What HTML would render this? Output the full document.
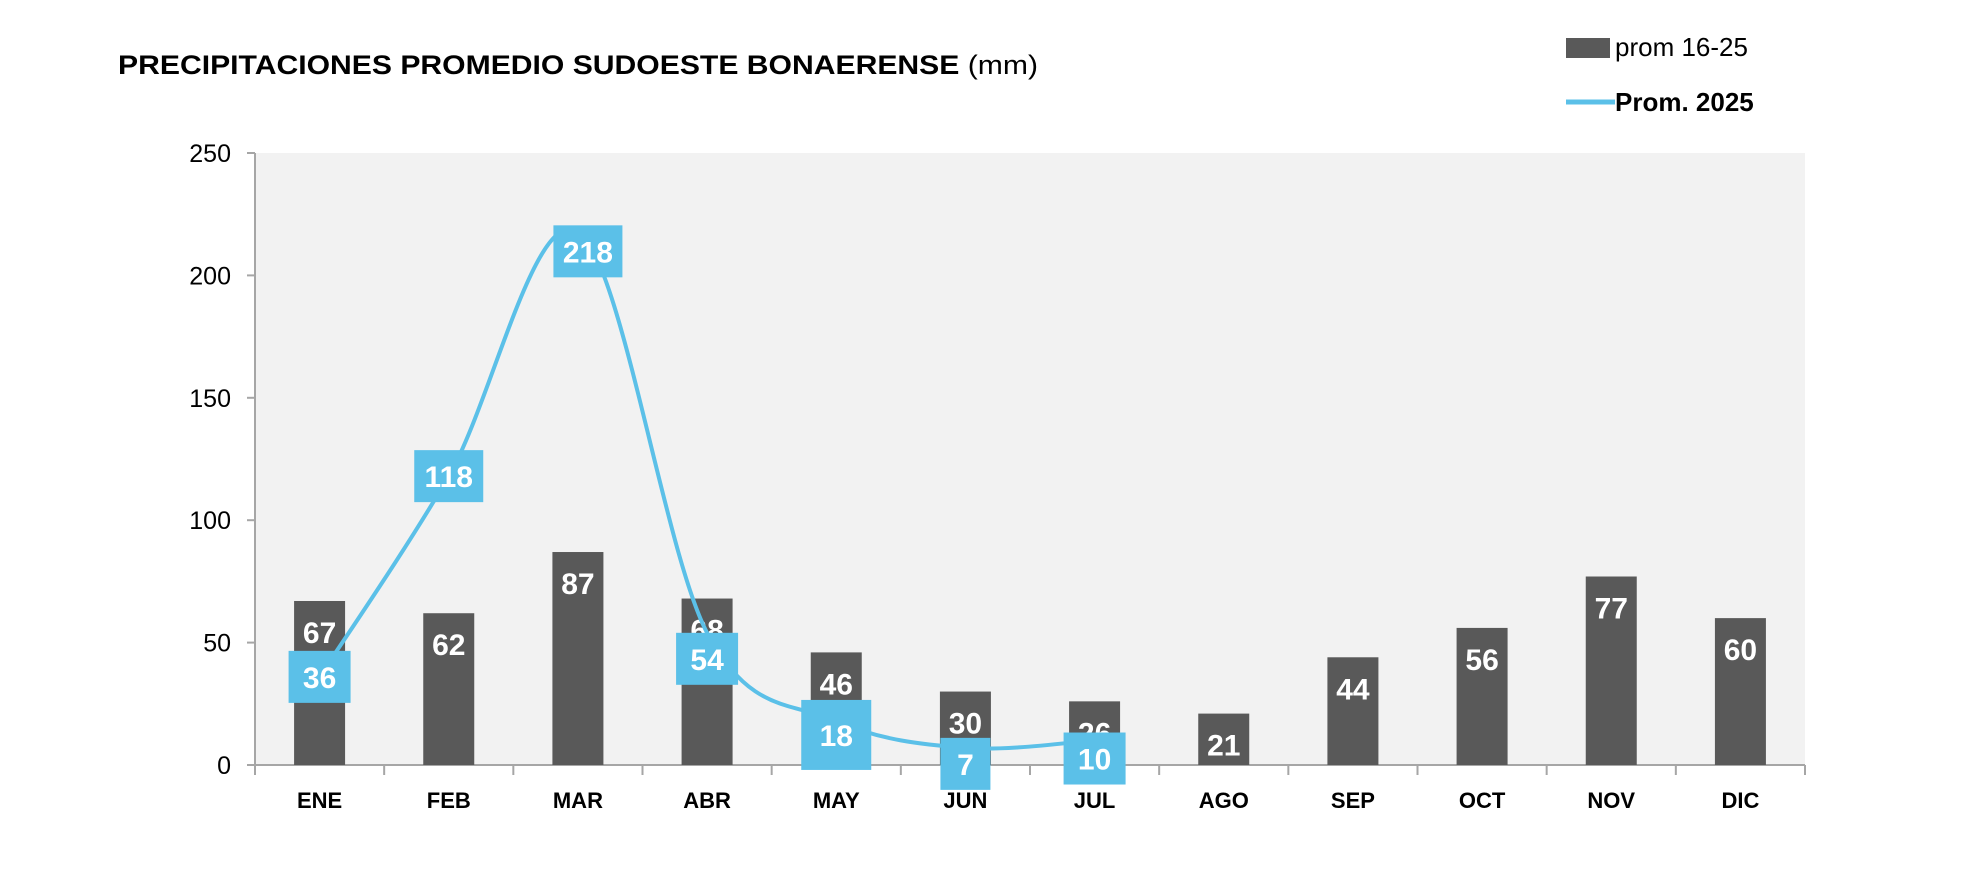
<!DOCTYPE html>
<html><head><meta charset="utf-8"><style>
html,body{margin:0;padding:0;background:#fff;}
svg{display:block;font-family:"Liberation Sans",sans-serif;}
</style></head><body>
<svg id="chart" width="1986" height="888" viewBox="0 0 1986 888">
<text x="118" y="74" font-size="27" font-weight="bold" fill="#000" textLength="920" lengthAdjust="spacingAndGlyphs">PRECIPITACIONES PROMEDIO SUDOESTE BONAERENSE <tspan font-weight="normal">(mm)</tspan></text>
<g>
<rect x="1566" y="38" width="44" height="20" fill="#595959"/>
<text x="1615" y="56" font-size="26" fill="#000">prom 16-25</text>
<line x1="1566" y1="102" x2="1615" y2="102" stroke="#5bc0e8" stroke-width="5"/>
<text x="1615" y="111" font-size="26" font-weight="bold" fill="#000">Prom. 2025</text>
</g>
<rect x="255" y="153" width="1550" height="612" fill="#f2f2f2"/>
<g id="axes"></g>
<g id="bars"></g>
<g id="line"></g>
<g id="labels"></g>
</svg>
<script>
const categories = ["ENE","FEB","MAR","ABR","MAY","JUN","JUL","AGO","SEP","OCT","NOV","DIC"];
const avgValues = [67,62,87,68,46,30,26,21,44,56,77,60];
const values2025 = [36,118,218,54,18,7,10];
const yTicks = [0,50,100,150,200,250];
const NS="http://www.w3.org/2000/svg";
const L=255,R=1805,T=153,B=765,YMAX=250;
const step=(R-L)/categories.length;
const xs=i=>L+step*(i+0.5);
const ys=v=>B-(v/YMAX)*(B-T);
function mk(tag,attrs,parent){const e=document.createElementNS(NS,tag);for(const k in attrs)e.setAttribute(k,attrs[k]);parent.appendChild(e);return e;}
const axes=document.getElementById('axes');
let a=mk('line',{x1:L,y1:T,x2:L,y2:B,stroke:'#a6a6a6','stroke-width':2},axes);

a=mk('line',{x1:L,y1:B,x2:R,y2:B,stroke:'#a6a6a6','stroke-width':2},axes);

yTicks.forEach(t=>{
 const y=ys(t);
 const tk=mk('line',{x1:L-8,y1:y,x2:L,y2:y,stroke:'#a6a6a6','stroke-width':2},axes);
 
 const tx=mk('text',{x:L-24,y:y+9,'font-size':25,'text-anchor':'end',fill:'#000'},axes);
 tx.textContent=t;
 
});
for(let i=0;i<=categories.length;i++){
 const x=L+step*i;
 const tk=mk('line',{x1:x,y1:B,x2:x,y2:B+10,stroke:'#a6a6a6','stroke-width':2},axes);
 
}
categories.forEach((c,i)=>{
 const tx=mk('text',{x:xs(i),y:808,'font-size':22,'font-weight':'bold','text-anchor':'middle',fill:'#000'},axes);
 tx.textContent=c;
 
});
const bars=document.getElementById('bars');
const bw=51;
avgValues.forEach((v,i)=>{
 const b=mk('rect',{x:xs(i)-bw/2,y:ys(v),width:bw,height:B-ys(v),fill:'#595959'},bars);
 
 const tx=mk('text',{x:xs(i),y:ys(v)+42,'font-size':30,'font-weight':'bold','text-anchor':'middle',fill:'#fff'},bars);
 tx.textContent=v;
 
});
const pts=values2025.map((v,i)=>[xs(i),ys(v)]);
let d='M'+pts[0][0]+','+pts[0][1];
for(let i=0;i<pts.length-1;i++){
 const p0=pts[Math.max(0,i-1)],p1=pts[i],p2=pts[i+1],p3=pts[Math.min(pts.length-1,i+2)];
 const t=1/6;
 d+=' C'+(p1[0]+(p2[0]-p0[0])*t)+','+(p1[1]+(p2[1]-p0[1])*t)+' '+(p2[0]-(p3[0]-p1[0])*t)+','+(p2[1]-(p3[1]-p1[1])*t)+' '+p2[0]+','+p2[1];
}
const ln=mk('path',{d:d,fill:'none',stroke:'#5bc0e8','stroke-width':4},document.getElementById('line'));

const lab=document.getElementById('labels');
const offY=[0,0,20,26,14,16,18];
values2025.forEach((v,i)=>{
 const s=String(v);
 const w=s.length>=3?69:(s.length==2?(i==4?70:62):50);
 const h=(i==4)?70:52;
 const cx=xs(i)+(i==2?10:0),cy=ys(v)+offY[i];
 const r=mk('rect',{x:cx-w/2,y:cy-h/2,width:w,height:h,fill:'#5bc0e8'},lab);
 
 const tx=mk('text',{x:cx,y:cy+11,'font-size':30,'font-weight':'bold','text-anchor':'middle',fill:'#fff'},lab);
 tx.textContent=s;
 
});
</script>
</body></html>
